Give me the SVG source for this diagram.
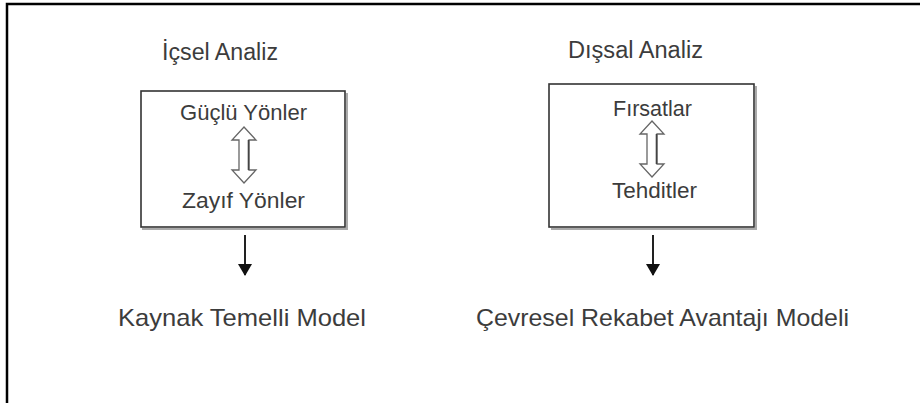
<svg xmlns="http://www.w3.org/2000/svg" width="920" height="403" viewBox="0 0 920 403">
  <style>
    text { font-family: "Liberation Sans", Arial, sans-serif; fill: #3c3c3c; }
    .title { font-size: 23px; }
    .item { font-size: 22px; }
    .model { font-size: 24px; }
    .box { fill: #fff; stroke: #333; stroke-width: 1.6; }
    .shadow { fill: none; stroke: #aaa; stroke-width: 2; }
    .dbl { fill: #fff; stroke: #666; stroke-width: 1.3; stroke-linejoin: miter; }
    .dblshade { stroke: #444; stroke-width: 1.6; }
    .flow { stroke: #222; stroke-width: 2; fill: none; }
  </style>
  <defs>
    <marker id="head" viewBox="0 0 12 14" refX="11" refY="7" markerWidth="12" markerHeight="14" markerUnits="userSpaceOnUse" orient="auto">
      <path d="M0,0 L12,7 L0,14 Z" fill="#111"/>
    </marker>
    <!-- hollow two-headed arrow, drawn around its centre x = 0 -->
    <g id="double">
      <path class="dbl" d="M0,0 L12,13 L5,13 L5,43 L12,43 L0,56 L-12,43 L-5,43 L-5,13 L-12,13 Z"/>
      <line class="dblshade" x1="4.5" y1="13" x2="4.5" y2="43"/>
    </g>
  </defs>

  <!-- page frame -->
  <path d="M7,403 V4 H920" fill="none" stroke="#000" stroke-width="2.5"/>

  <!-- internal analysis -->
  <g id="internal">
    <text class="title" x="162" y="60" textLength="116" lengthAdjust="spacingAndGlyphs">İçsel Analiz</text>
    <polyline class="shadow" points="347,93 347,229 142,229"/>
    <rect class="box" x="141" y="91" width="204" height="136"/>
    <text class="item" x="180" y="120" textLength="127" lengthAdjust="spacingAndGlyphs">Güçlü Yönler</text>
    <use href="#double" x="244" y="127"/>
    <text class="item" x="182" y="208" textLength="123" lengthAdjust="spacingAndGlyphs">Zayıf Yönler</text>
  </g>

  <!-- external analysis -->
  <g id="external">
    <text class="title" x="568" y="58" textLength="135" lengthAdjust="spacingAndGlyphs">Dışsal Analiz</text>
    <polyline class="shadow" points="756,86 756,229 551,229"/>
    <rect class="box" x="549" y="84" width="205" height="143"/>
    <text class="item" x="613" y="116" textLength="79" lengthAdjust="spacingAndGlyphs">Fırsatlar</text>
    <use href="#double" x="652" y="121"/>
    <text class="item" x="612" y="198" textLength="85" lengthAdjust="spacingAndGlyphs">Tehditler</text>
  </g>

  <!-- resulting models -->
  <g id="resource-model">
    <text class="model" x="118" y="326" textLength="248" lengthAdjust="spacingAndGlyphs">Kaynak Temelli Model</text>
  </g>
  <g id="environment-model">
    <text class="model" x="476" y="326" textLength="373" lengthAdjust="spacingAndGlyphs">Çevresel Rekabet Avantajı Modeli</text>
  </g>

  <!-- connectors -->
  <g id="connectors">
    <line class="flow" x1="245" y1="235" x2="245" y2="275" marker-end="url(#head)"/>
    <line class="flow" x1="653" y1="235" x2="653" y2="275" marker-end="url(#head)"/>
  </g>
</svg>
